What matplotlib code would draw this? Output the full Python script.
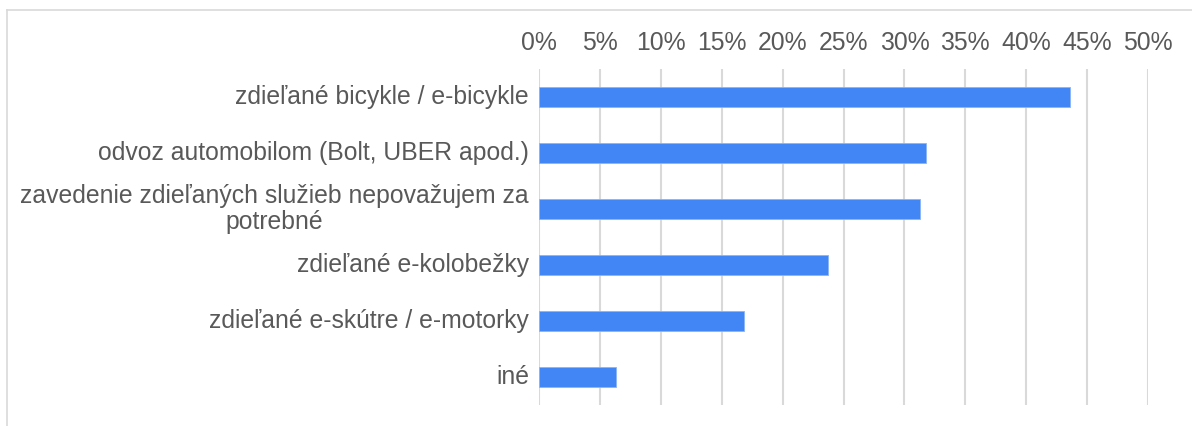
import matplotlib.pyplot as plt
from matplotlib.lines import Line2D
from matplotlib.ticker import PercentFormatter

categories = [
    "zdieľané bicykle / e-bicykle",
    "odvoz automobilom (Bolt, UBER apod.)",
    "zavedenie zdieľaných služieb nepovažujem za\npotrebné",
    "zdieľané e-kolobežky",
    "zdieľané e-skútre / e-motorky",
    "iné",
]
values = [43.6, 31.8, 31.3, 23.7, 16.8, 6.3]
xticks = [0, 5, 10, 15, 20, 25, 30, 35, 40, 45, 50]

plt.rcParams["font.family"] = ["Liberation Sans", "DejaVu Sans"]
text_color = "#595959"
fsize = 17.8

fig = plt.figure(figsize=(11.92, 4.26), dpi=100)
ax = fig.add_axes([539 / 1192, 1 - 405 / 426, (1148 - 539) / 1192, (405 - 69) / 426])

y = list(range(len(categories)))
ax.barh(y, values, height=0.36, color="#4285f4", edgecolor="#8ab4f8", linewidth=0.6, zorder=3)

ax.set_xlim(0, 50)
ax.set_ylim(len(categories) - 0.5, -0.5)
ax.set_xticks(xticks)
ax.xaxis.set_major_formatter(PercentFormatter(decimals=0))
ax.set_yticks([])

ax.tick_params(axis="x", top=True, labeltop=True, bottom=False, labelbottom=False,
               length=0, pad=10, labelsize=fsize, colors=text_color)

# category labels: right aligned, wrapped lines centred
for yi, label in zip(y, categories):
    ax.text(-10 / 609, yi, label, transform=ax.get_yaxis_transform(), ha="right", va="center",
            multialignment="center", linespacing=1.15, fontsize=fsize, color=text_color)

ax.grid(axis="x", color="#d9d9d9", linewidth=1.5, zorder=0)
for s in ax.spines.values():
    s.set_visible(False)

# light frame around the chart area
fig.add_artist(Line2D([7 / 1192, 1], [1 - 10 / 426, 1 - 10 / 426], transform=fig.transFigure,
                      color="#d9d9d9", linewidth=1.2))
fig.add_artist(Line2D([7 / 1192, 7 / 1192], [0, 1 - 10 / 426], transform=fig.transFigure,
                      color="#d9d9d9", linewidth=1.2))

fig.savefig("out.png", dpi=100, facecolor="white")
